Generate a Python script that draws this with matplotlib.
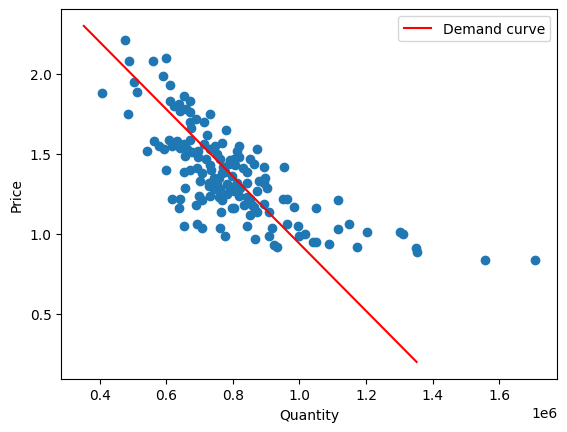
import numpy as np
import matplotlib
matplotlib.use("Agg")
import matplotlib.pyplot as plt

# observed quantity / price pairs
quantity = [
    408000, 477000, 489000, 486000, 504000, 512000, 559000, 598000, 589000, 610000,
    612000, 652000, 672000, 622000, 660000, 638000, 642000, 672000, 732000, 672000,
    690000, 712000, 675000, 780000, 723000, 670000, 562000, 577000, 542000, 592000,
    607000, 617000, 632000, 642000, 652000, 662000, 677000, 696000, 712000, 732000,
    747000, 767000, 817000, 812000, 817000, 872000, 657000, 720000, 696000, 752000,
    762000, 802000, 852000, 862000, 787000, 807000, 598000, 652000, 672000, 692000,
    707000, 702000, 735000, 732000, 742000, 727000, 752000, 757000, 767000, 770000,
    792000, 782000, 762000, 831000, 812000, 822000, 842000, 802000, 892000, 954000,
    897000, 892000, 902000, 872000, 877000, 657000, 777000, 797000, 787000, 727000,
    742000, 842000, 617000, 642000, 637000, 697000, 690000, 707000, 732000, 757000,
    767000, 782000, 765000, 802000, 832000, 842000, 857000, 852000, 872000, 892000,
    909000, 817000, 797000, 852000, 952000, 962000, 985000, 1050000, 1116000, 862000,
    652000, 692000, 707000, 762000, 776000, 842000, 867000, 908000, 917000, 924000,
    932000, 962000, 995000, 999000, 1017000, 1041000, 1049000, 1090000, 1115000, 1149000,
    1204000, 1174000, 1302000, 1312000, 1350000, 1354000, 1558000, 1707000,
]
price = [
    1.88, 2.21, 2.08, 1.75, 1.95, 1.89, 2.08, 2.10, 1.99, 1.93,
    1.83, 1.86, 1.83, 1.80, 1.78, 1.81, 1.77, 1.76, 1.75, 1.70,
    1.72, 1.70, 1.66, 1.65, 1.62, 1.59, 1.58, 1.55, 1.52, 1.53,
    1.59, 1.55, 1.58, 1.54, 1.56, 1.53, 1.51, 1.52, 1.56, 1.53,
    1.55, 1.57, 1.55, 1.52, 1.48, 1.53, 1.49, 1.47, 1.48, 1.50,
    1.47, 1.47, 1.47, 1.44, 1.44, 1.43, 1.40, 1.39, 1.40, 1.41,
    1.38, 1.33, 1.40, 1.43, 1.35, 1.32, 1.31, 1.35, 1.38, 1.42,
    1.46, 1.31, 1.28, 1.41, 1.32, 1.29, 1.32, 1.27, 1.42, 1.42,
    1.35, 1.32, 1.29, 1.27, 1.33, 1.29, 1.39, 1.36, 1.30, 1.30,
    1.28, 1.39, 1.22, 1.22, 1.16, 1.24, 1.18, 1.21, 1.24, 1.23,
    1.21, 1.25, 1.14, 1.16, 1.18, 1.23, 1.18, 1.12, 1.14, 1.19,
    1.14, 1.24, 1.16, 1.22, 1.22, 1.22, 1.17, 1.16, 1.21, 1.17,
    1.05, 1.06, 1.04, 1.04, 0.99, 1.05, 0.97, 0.99, 1.04, 0.93,
    0.92, 1.06, 1.05, 0.99, 1.00, 0.95, 0.95, 0.94, 1.03, 1.06,
    1.01, 0.92, 1.01, 1.00, 0.91, 0.89, 0.84, 0.84,
]

# fitted demand line end points
demand_q = [352000, 1352000]
demand_p = [2.30, 0.20]

fig = plt.figure(figsize=(6.4, 4.8), dpi=100)
plt.scatter(quantity, price)
plt.plot(demand_q, demand_p, color='red', label='Demand curve')
plt.xlabel("Quantity")
plt.ylabel("Price")
plt.legend()
plt.savefig("out.png", dpi=100, bbox_inches='tight')
